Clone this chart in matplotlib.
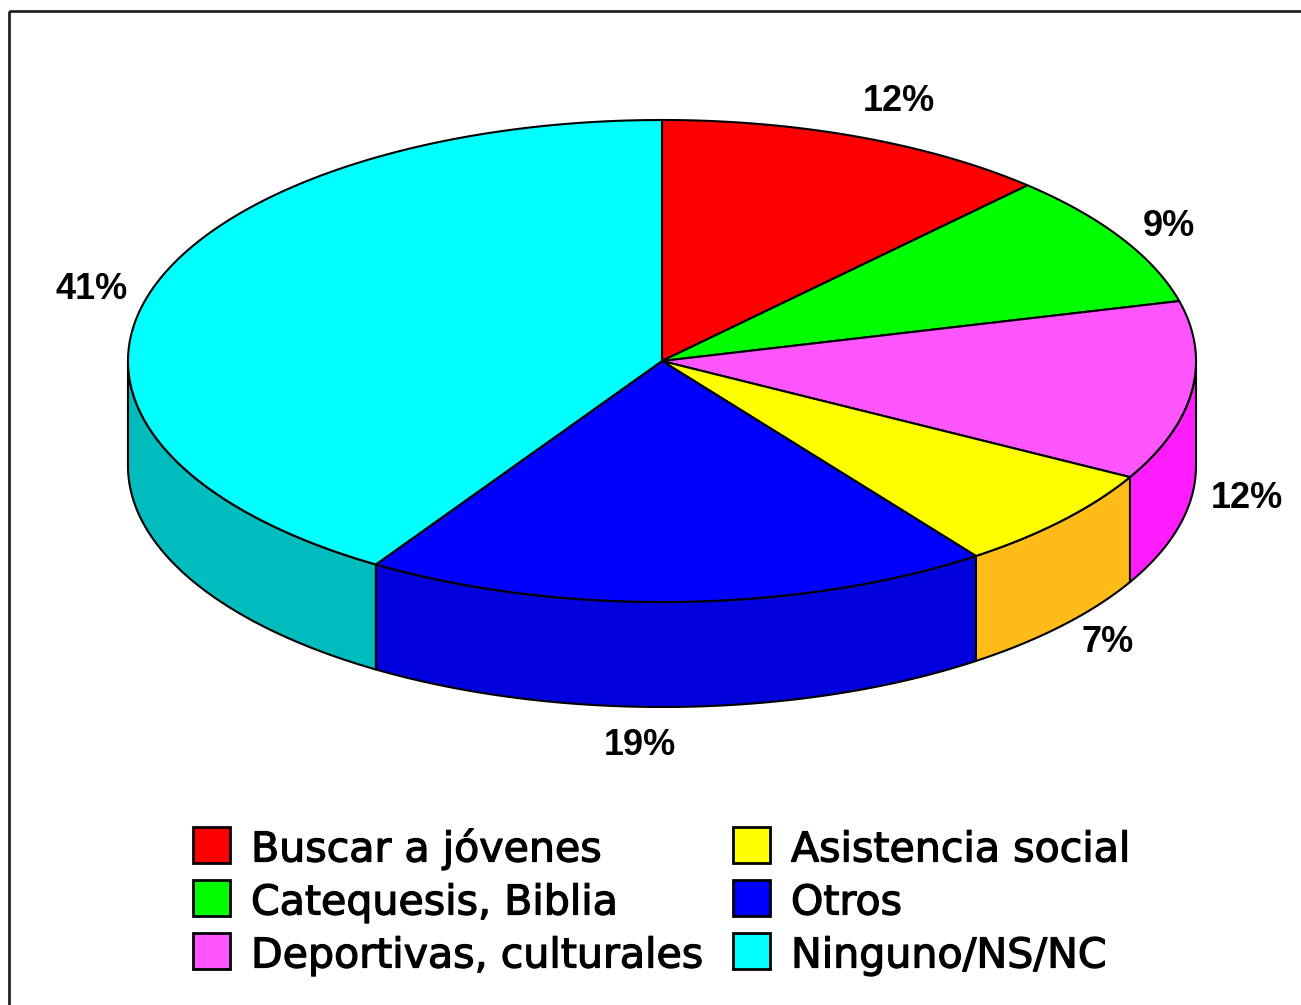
import numpy as np
import matplotlib
matplotlib.use('Agg')
import matplotlib.pyplot as plt
import matplotlib.patheffects as pe
from matplotlib.patches import Polygon, Rectangle

plt.rcParams['font.family'] = ['Liberation Sans', 'DejaVu Sans']

categorias = ['Buscar a jóvenes', 'Catequesis, Biblia', 'Deportivas, culturales',
              'Asistencia social', 'Otros', 'Ninguno/NS/NC']
valores = [12, 9, 12, 7, 19, 41]
colores = ['#ff0000', '#00ff00', '#ff55ff', '#ffff00', '#0000ff', '#00ffff']
colores_lado = ['#cc0000', '#00cc00', '#ff1cff', '#ffbb18', '#0000dd', '#00bcbc']

# posicion de las etiquetas de porcentaje (centro del texto, en pixeles)
pos_etiquetas = [(899, 101), (1169, 226), (1247, 498), (1108, 642), (640, 745), (92, 289)]

# geometria de la torta
cx, cy = 662, 361
rx, ry = 534, 241
alto = 105

fig = plt.figure(figsize=(13.01, 10.05), dpi=100)
ax = fig.add_axes([0, 0, 1, 1])
ax.set_xlim(0, 1301)
ax.set_ylim(1005, 0)
ax.axis('off')

# marco
ax.add_patch(Rectangle((9, 11), 1400, 1100, fill=False, edgecolor='#222222', linewidth=2))


def punto(ang):
    return cx + rx * np.sin(ang), cy - ry * np.cos(ang)


acum = np.cumsum([0] + valores) / sum(valores) * 2 * np.pi

# caras laterales (solo la mitad de adelante)
for i in range(len(valores)):
    a0 = max(acum[i], np.pi / 2)
    a1 = min(acum[i + 1], 3 * np.pi / 2)
    if a1 <= a0:
        continue
    t = np.linspace(a0, a1, 120)
    x, y = punto(t)
    arriba = np.column_stack([x, y])
    abajo = np.column_stack([x, y + alto])[::-1]
    ax.add_patch(Polygon(np.vstack([arriba, abajo]), closed=True, facecolor=colores_lado[i],
                         edgecolor='black', linewidth=1.5, joinstyle='round'))

# caras de arriba
for i in range(len(valores)):
    t = np.linspace(acum[i], acum[i + 1], 200)
    x, y = punto(t)
    pts = np.vstack([[cx, cy], np.column_stack([x, y])])
    ax.add_patch(Polygon(pts, closed=True, facecolor=colores[i],
                         edgecolor='black', linewidth=1.5, joinstyle='round'))

# etiquetas
for v, (px, py) in zip(valores, pos_etiquetas):
    ax.text(px, py, f'{v}%', ha='center', va='center', fontsize=26, fontweight='bold',
            color='black')

# leyenda
cajas_x = [193, 193, 193, 733, 733, 733]
filas_y = [845, 898, 951, 845, 898, 951]
for i, nombre in enumerate(categorias):
    ax.add_patch(Rectangle((cajas_x[i], filas_y[i] - 18), 37, 36, facecolor=colores[i],
                           edgecolor='black', linewidth=2))
    ax.text(cajas_x[i] + 58, filas_y[i] + 16.5, nombre, ha='left', va='baseline', fontsize=29.6,
            color='black', family=['DejaVu Sans'],
            path_effects=[pe.withStroke(linewidth=0.9, foreground='black')])

fig.savefig('out.png', dpi=100)
